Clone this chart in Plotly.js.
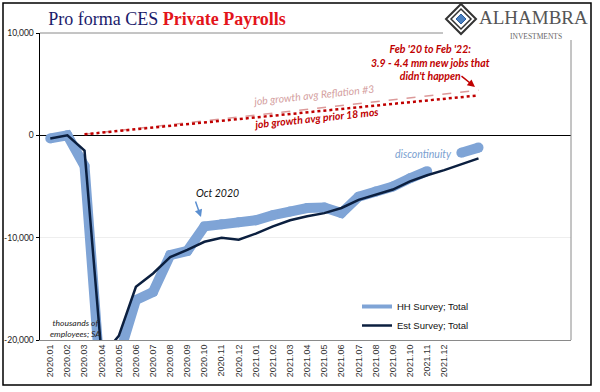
<!DOCTYPE html>
<html>
<head>
<meta charset="utf-8">
<script src="https://cdn.plot.ly/plotly-3.0.1.min.js"></script>
<style>html,body{margin:0;padding:0;background:#fff;}#chart{width:600px;height:392px;}</style>
</head>
<body>
<div id="chart"></div>
<script>
// ---- data ----
const months = ['2020.01','2020.02','2020.03','2020.04','2020.05','2020.06','2020.07','2020.08','2020.09','2020.10','2020.11','2020.12',
  '2021.01','2021.02','2021.03','2021.04','2021.05','2021.06','2021.07','2021.08','2021.09','2021.10','2021.11','2021.12','2022.01','2022.02'];
const tickLabels = ['2020.01','2020.02','2020.03','2020.04','2020.05','2020.06','2020.07','2020.08','2020.09','2020.10','2020.11','2020.12',
  '2021.01','2021.02','2021.03','2021.04','2021.05','2021.06','2021.07','2021.08','2021.09','2021.10','2021.11','2021.12'];
const hhSurvey = [-300, 0, -3000, -25400, -21600, -16100, -15300, -11700, -11300, -8900, -8700, -8500,
  -8300, -7800, -7450, -7100, -7050, -7600, -6000, -5500, -5000, -4200, -3500, null, -1700, -1200];
const estSurvey = [-300, 0, -1500, -21600, -19600, -14800, -13500, -11900, -11200, -10400, -10000, -10200,
  -9600, -8900, -8300, -7900, -7600, -7100, -6300, -5800, -5300, -4500, -3900, -3400, -2800, -2250];
const trendX = ['2020.03', '2022.02'];
const trendPrior18 = [100, 3900];
const trendReflation = [100, 4400];
const yTicks = [-20000, -10000, 0, 10000];
const yTickText = ['-20,000', '-10,000', '0', '10,000'];

// ---- layout helpers (pixel -> paper) ----
const L = 40, R = 571, T = 33, B = 340;
const px = x => (x - L) / (R - L);
const py = y => (B - y) / (B - T);

const HH_COLOR = '#7fa4d6', EST_COLOR = '#0b1f3f';
const traces = [
  {x: months, y: hhSurvey, type: 'scatter', mode: 'lines+markers', name: 'HH Survey; Total', showlegend: false,
   line: {color: HH_COLOR, width: 10}, marker: {color: HH_COLOR, size: 10, line: {width: 0}}, connectgaps: false},
  {x: months, y: estSurvey, type: 'scatter', mode: 'lines', name: 'Est Survey; Total', showlegend: false,
   line: {color: EST_COLOR, width: 2.5}},
  {x: trendX, y: trendReflation, type: 'scatter', mode: 'lines', showlegend: false,
   line: {color: '#dc9a9a', width: 1.5, dash: 'dash'}},
  {x: trendX, y: trendPrior18, type: 'scatter', mode: 'lines', showlegend: false,
   line: {color: '#c00000', width: 2.5, dash: 'dot'}},
  // legend entries (same series styles, thinner legend samples)
  {x: [null], y: [null], type: 'scatter', mode: 'lines', name: 'HH Survey; Total', line: {color: HH_COLOR, width: 4}},
  {x: [null], y: [null], type: 'scatter', mode: 'lines', name: 'Est Survey; Total', line: {color: EST_COLOR, width: 2.5}}
];

const cx = 461, cy = 19;
function diamond(h) {
  return 'M' + px(cx) + ',' + py(cy - h) + ' L' + px(cx + h) + ',' + py(cy) + ' L' + px(cx) + ',' + py(cy + h) + ' L' + px(cx - h) + ',' + py(cy) + ' Z';
}

const shapes = [
  {type: 'rect', xref: 'paper', yref: 'paper', x0: px(3), x1: px(591), y0: py(3), y1: py(385),
   line: {color: '#000', width: 1.5}, fillcolor: 'rgba(0,0,0,0)'},
  {type: 'line', xref: 'paper', yref: 'paper', x0: 0, x1: px(443), y0: 1, y1: 1, line: {color: '#8a8a8a', width: 1}},
  {type: 'line', xref: 'paper', yref: 'paper', x0: 1, x1: 1, y0: 0, y1: py(40), line: {color: '#8a8a8a', width: 1}},
  {type: 'path', xref: 'paper', yref: 'paper', path: diamond(15), line: {color: '#333', width: 2}, fillcolor: '#fff'},
  {type: 'path', xref: 'paper', yref: 'paper', path: diamond(10), line: {color: '#333', width: 1.5}, fillcolor: '#fff'},
  {type: 'path', xref: 'paper', yref: 'paper', path: diamond(5), line: {color: '#2f5f9e', width: 1}, fillcolor: '#4a80c0'}
];

const F = 'Lato, "Open Sans", sans-serif';
function note(x, y, text, font, extra) {
  return Object.assign({xref: 'paper', yref: 'paper', x: px(x), y: py(y), text: text, showarrow: false,
    xanchor: 'center', yanchor: 'middle', font: font}, extra || {});
}
const annotations = [
  note(533, 18, 'ALHAMBRA', {family: '"Liberation Serif", "DejaVu Serif", serif', size: 19, color: '#555'}),
  note(536, 36, 'INVESTMENTS', {family: '"Liberation Serif", "DejaVu Serif", serif', size: 7.5, color: '#666'}),
  note(430, 62, "<b><i>Feb '20 to Feb '22:<br>3.9 - 4.4 mm new jobs that<br>didn't happen</i></b>",
       {family: F, size: 10.5, color: '#c00000'}, {align: 'center'}),
  {xref: 'paper', yref: 'paper', x: px(475), y: py(87), ax: px(460), ay: py(75), axref: 'paper', ayref: 'paper',
   text: '', showarrow: true, arrowhead: 2, arrowsize: 1, arrowwidth: 1.5, arrowcolor: '#c00000'},
  note(314, 95, '<i>job growth avg Reflation #3</i>', {family: F, size: 10.5, color: '#d4a0a0'}, {textangle: -6}),
  note(317, 118, '<b><i>job growth avg prior 18 mos</i></b>', {family: F, size: 10.5, color: '#c00000'}, {textangle: -6}),
  note(217, 193, '<i>Oct 2020</i>', {family: F, size: 10.5, color: '#111'}),
  {xref: 'paper', yref: 'paper', x: px(201), y: py(217), ax: px(195), ay: py(200), axref: 'paper', ayref: 'paper',
   text: '', showarrow: true, arrowhead: 2, arrowsize: 1, arrowwidth: 1.5, arrowcolor: '#5b8fd0'},
  note(423, 154, '<i>discontinuity</i>', {family: F, size: 10.5, color: '#7b9fd0'}),
  note(75, 328, '<i>thousands of<br>employees; SA</i>', {family: F, size: 8.5, color: '#222'})
];

const layout = {
  width: 600, height: 392,
  margin: {l: L, r: 600 - R, t: T, b: 392 - B, pad: 0},
  paper_bgcolor: '#fff', plot_bgcolor: '#fff',
  title: {
    text: '<span style="color:#1b1b6b">Pro forma CES </span><b><span style="color:#e3141b">Private Payrolls</span></b>',
    font: {family: '"Liberation Serif", "DejaVu Serif", serif', size: 18},
    xref: 'paper', x: px(167), xanchor: 'center', yref: 'container', y: 1 - 19 / 392, yanchor: 'middle'
  },
  xaxis: {
    type: 'category', categoryorder: 'array', categoryarray: months,
    range: [-0.6, 30.4], tickmode: 'array', tickvals: tickLabels, ticktext: tickLabels,
    tickangle: -90, tickfont: {family: '"Liberation Sans", Arial, sans-serif', size: 9, color: '#333'},
    showgrid: false, zeroline: false, showline: true, linecolor: '#8a8a8a', linewidth: 1,
    ticks: '', fixedrange: true
  },
  yaxis: {
    range: [-20000, 10000], tickmode: 'array', tickvals: yTicks, ticktext: yTickText,
    tickfont: {family: F, size: 8.5, color: '#222'},
    showgrid: true, gridcolor: '#eeeeee', zeroline: true, zerolinecolor: '#000', zerolinewidth: 1.5,
    showline: true, linecolor: '#000', linewidth: 1.5, ticks: 'outside', ticklen: 3, tickcolor: '#000',
    fixedrange: true
  },
  legend: {
    x: px(357), y: py(292), xanchor: 'left', yanchor: 'top', bgcolor: 'rgba(0,0,0,0)', borderwidth: 0,
    font: {family: '"Liberation Sans", Arial, sans-serif', size: 9.5, color: '#111'}, tracegroupgap: 0
  },
  shapes: shapes,
  annotations: annotations
};

Plotly.newPlot('chart', traces, layout, {displayModeBar: false, staticPlot: true});
</script>
</body>
</html>
